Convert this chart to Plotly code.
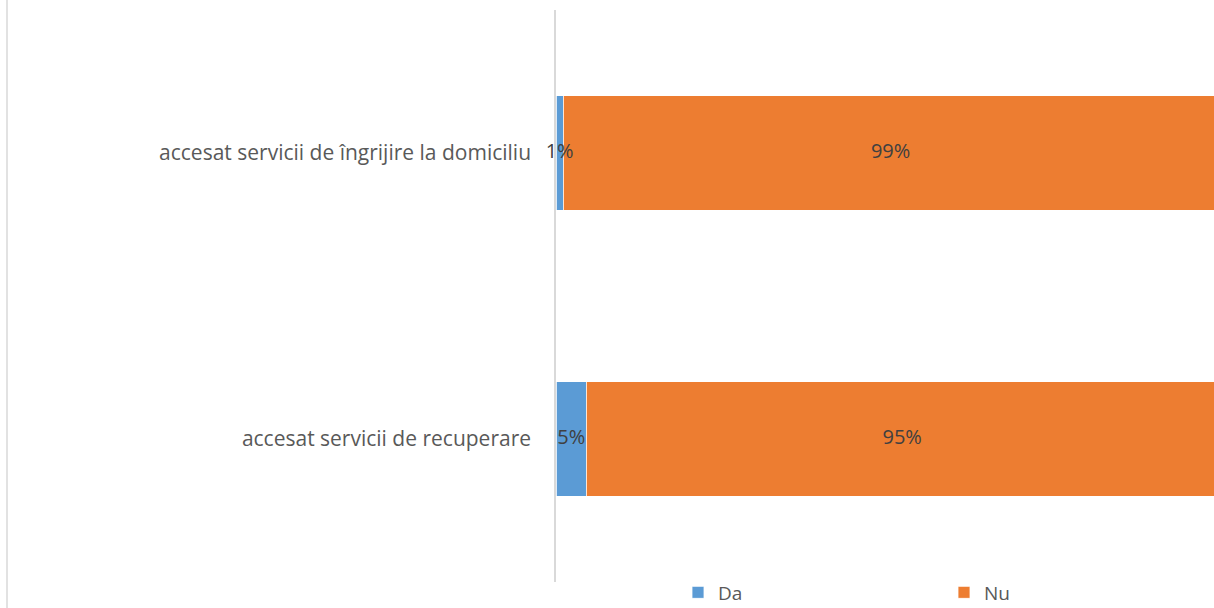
import plotly.graph_objects as go

categories = ["accesat servicii de recuperare", "accesat servicii de îngrijire la domiciliu"]
da_values = [4.6, 1.1]
nu_values = [95.4, 98.9]
series_names = ["Da", "Nu"]

W, H = 1214, 608
L, R, T, B = 556, 0, 10, 26
PW = W - L - R
PH = H - T - B

TXT = "#595959"
LBL = "#404040"
FONT = "Open Sans"

fig = go.Figure()
fig.add_trace(go.Bar(
    y=categories, x=da_values, name=series_names[0], orientation="h",
    marker=dict(color="#5B9BD5", line=dict(color="white", width=0.8)),
    legend="legend", hoverinfo="skip",
))
fig.add_trace(go.Bar(
    y=categories, x=nu_values, name=series_names[1], orientation="h",
    marker=dict(color="#ED7D31", line=dict(color="white", width=0.8)),
    legend="legend2", hoverinfo="skip",
))

# data labels centred on each segment, drawn on top of the bars
da_centres = [d / 2 for d in da_values]
nu_centres = [d + n / 2 for d, n in zip(da_values, nu_values)]
fig.add_trace(go.Scatter(
    y=categories, x=da_centres, mode="text",
    text=[f"{round(v)}%" for v in da_values], textposition="middle center",
    textfont=dict(color=LBL, size=20, family=FONT),
    showlegend=False, cliponaxis=False, hoverinfo="skip",
))
fig.add_trace(go.Scatter(
    y=categories, x=nu_centres, mode="text",
    text=[f"{round(v)}%" for v in nu_values], textposition="middle center",
    textfont=dict(color=LBL, size=20, family=FONT),
    showlegend=False, cliponaxis=False, hoverinfo="skip",
))

legend_common = dict(
    orientation="h", yanchor="middle", xanchor="left",
    font=dict(family=FONT, size=19, color=TXT),
    bgcolor="rgba(0,0,0,0)", borderwidth=0, itemclick=False,
)

fig.update_layout(
    barmode="stack",
    bargap=0.6,
    width=W, height=H,
    autosize=False,
    margin=dict(l=L, r=R, t=T, b=B, pad=0, autoexpand=False),
    paper_bgcolor="white", plot_bgcolor="white",
    showlegend=True,
    legend=dict(x=(678 - L) / PW, y=(PH + T - 592.5) / PH, **legend_common),
    legend2=dict(x=(944 - L) / PW, y=(PH + T - 592.5) / PH, **legend_common),
    xaxis=dict(range=[0, 99.4], showgrid=False, zeroline=False, showticklabels=False,
               showline=False, fixedrange=True),
    yaxis=dict(showgrid=False, zeroline=False, showline=True, linecolor="#d9d9d9",
               linewidth=1.5, ticks="", ticklabelstandoff=19, fixedrange=True,
               tickfont=dict(family=FONT, size=21, color=TXT)),
)

fig.add_shape(type="line", xref="paper", yref="paper",
              x0=(7 - L) / PW, x1=(7 - L) / PW,
              y0=-B / PH, y1=1 + T / PH,
              line=dict(color="#d9d9d9", width=1.5))

post = (
    "document.documentElement.style.margin='0';"
    "document.documentElement.style.overflow='hidden';"
    "document.body.style.margin='0';"
    "document.body.style.padding='0';"
    "document.body.style.overflow='hidden';"
    "var gd=document.getElementById('{plot_id}');"
    "Plotly.relayout(gd,{width:%d,height:%d});" % (W, H)
)

fig.write_html("out.html", post_script=post, config={"displayModeBar": False})
